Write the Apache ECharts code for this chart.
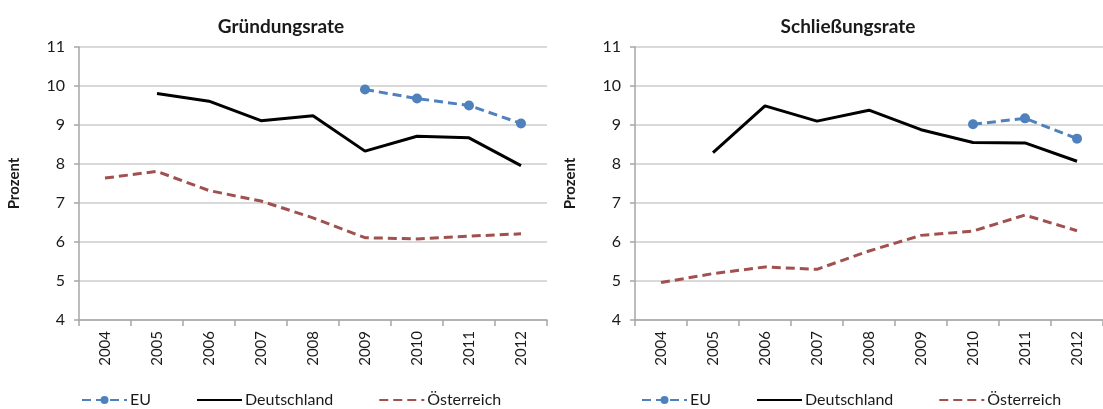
<!DOCTYPE html>
<html><head><meta charset="utf-8">
<script src="https://cdn.jsdelivr.net/npm/echarts@6/dist/echarts.min.js"></script>
<style>html,body{margin:0;padding:0;background:#fff}#c{width:1103px;height:409px}</style>
</head><body><div id="c"></div>
<script>
const years = ['2004','2005','2006','2007','2008','2009','2010','2011','2012'];
const titles = ['Gründungsrate','Schließungsrate'];
const seriesNames = ['EU','Deutschland','Österreich'];
const yAxisName = 'Prozent';
// Gründungsrate
const g_EU = [null,null,null,null,null,9.91,9.68,9.50,9.04];
const g_DE = [null,9.81,9.61,9.11,9.24,8.33,8.71,8.67,7.96];
const g_AT = [7.64,7.81,7.32,7.05,6.62,6.11,6.08,6.15,6.21];
// Schließungsrate
const s_EU = [null,null,null,null,null,null,9.02,9.17,8.65];
const s_DE = [null,8.29,9.49,9.10,9.38,8.88,8.55,8.54,8.07];
const s_AT = [4.96,5.19,5.36,5.30,5.77,6.17,6.28,6.69,6.29];

const FONT = 'Lato, "Open Sans", sans-serif';
const TXT = '#1a1a1a';
const colors = {EU:'#4f81bd', DE:'#000000', AT:'#a0504e'};

function xAx(i){return {type:'category',gridIndex:i,data:years,boundaryGap:true,
  axisLine:{lineStyle:{color:'#a6a6a6',width:1.5}},
  axisTick:{show:true,inside:false,length:6,lineStyle:{color:'#a6a6a6',width:1.5}},
  axisLabel:{rotate:90,margin:11,color:TXT,fontSize:15,fontFamily:FONT}};}
function yAx(i){return {type:'value',gridIndex:i,min:4,max:11,interval:1,
  name:yAxisName,nameLocation:'middle',nameGap:57,
  nameTextStyle:{fontSize:15,fontWeight:'bold',color:TXT,fontFamily:FONT},
  axisLine:{show:true,lineStyle:{color:'#a6a6a6',width:1.5}},
  axisTick:{show:true,length:5,lineStyle:{color:'#a6a6a6',width:1.5}},
  axisLabel:{color:TXT,fontSize:16,fontFamily:FONT,margin:14},
  splitLine:{lineStyle:{color:'#d9d9d9',width:2}}};}
function mk(name,data,i){
  const key = name==='EU'?'EU':(name==='Deutschland'?'DE':'AT');
  const s = {name:name,type:'line',xAxisIndex:i,yAxisIndex:i,data:data,connectNulls:false,
    lineStyle:{color:colors[key],width:3,type:key==='DE'?'solid':[9,5]},
    itemStyle:{color:colors[key]},animation:false};
  if(key==='EU'){s.symbol='circle';s.symbolSize=10;s.showSymbol=true;}
  else {s.symbol='none';s.showSymbol=false;}
  return s;
}
function legend(left){
  return {left:left,top:392,padding:0,itemGap:45,itemWidth:45,itemHeight:10,selectedMode:false,
    data:[{name:seriesNames[0]},
          {name:seriesNames[1],itemStyle:{color:'rgba(0,0,0,0)',opacity:0}},
          {name:seriesNames[2],itemStyle:{color:'rgba(0,0,0,0)',opacity:0}}],
    textStyle:{fontSize:16,color:TXT,fontFamily:FONT,padding:[0,0,0,-2]}};
}
const chart = echarts.init(document.getElementById('c'),null,{renderer:'canvas'});
chart.setOption({
  backgroundColor:'#fff',
  animation:false,
  title:[
    {text:titles[0],left:276,top:12,textAlign:'center',textStyle:{fontSize:19,fontWeight:'bold',color:TXT,fontFamily:FONT}},
    {text:titles[1],left:843,top:12,textAlign:'center',textStyle:{fontSize:19,fontWeight:'bold',color:TXT,fontFamily:FONT}}
  ],
  grid:[
    {left:79,width:468,top:47,height:273},
    {left:635,width:479,top:47,height:273}
  ],
  xAxis:[xAx(0),xAx(1)],
  yAxis:[yAx(0),yAx(1)],
  legend:[legend(81),legend(641)],
  series:[
    mk('EU',g_EU,0),mk('Deutschland',g_DE,0),mk('Österreich',g_AT,0),
    mk('EU',s_EU,1),mk('Deutschland',s_DE,1),mk('Österreich',s_AT,1)
  ]
});
</script></body></html>
